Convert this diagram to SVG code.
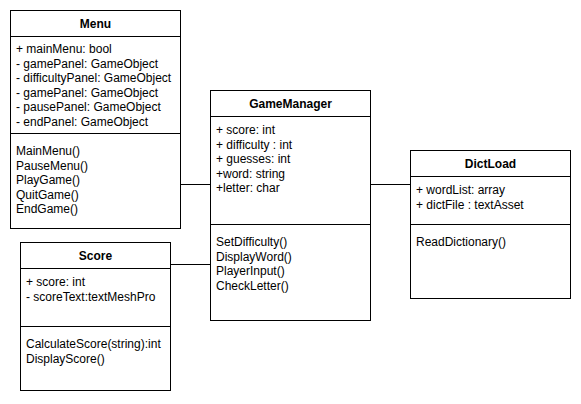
<svg xmlns="http://www.w3.org/2000/svg" width="581" height="404" viewBox="0 0 581 404">
<style>
.box{fill:#fff;stroke:#000;stroke-width:1}
.sep{stroke:#000;stroke-width:1}
.t{font-family:"Liberation Sans",Arial,sans-serif;font-size:12px;fill:#000}
.h{font-family:"Liberation Sans",Arial,sans-serif;font-size:12px;font-weight:bold;fill:#000;text-anchor:middle}
.c{stroke:#000;stroke-width:1;fill:none}
</style>
<rect width="581" height="404" fill="#fff"/>
<g id="connectors">
<line class="c" x1="180.5" y1="184.5" x2="210.5" y2="184.5"/>
<line class="c" x1="370.5" y1="184.5" x2="410.5" y2="184.5"/>
<line class="c" x1="170.5" y1="264.5" x2="210.5" y2="264.5"/>
</g>
<g id="menu">
<rect class="box" x="10.5" y="10.5" width="170" height="218"/>
<line class="sep" x1="10.5" y1="36.5" x2="180.5" y2="36.5"/>
<line class="sep" x1="10.5" y1="133.5" x2="180.5" y2="133.5"/>
<text class="h" x="95.5" y="28">Menu</text>
<text class="t" x="16" y="53">+ mainMenu: bool</text>
<text class="t" x="16" y="67.5">- gamePanel: GameObject</text>
<text class="t" x="16" y="82">- difficultyPanel: GameObject</text>
<text class="t" x="16" y="96.5">- gamePanel: GameObject</text>
<text class="t" x="16" y="111">- pausePanel: GameObject</text>
<text class="t" x="16" y="125.5">- endPanel: GameObject</text>
<text class="t" x="16" y="155">MainMenu()</text>
<text class="t" x="16" y="169.5">PauseMenu()</text>
<text class="t" x="16" y="184">PlayGame()</text>
<text class="t" x="16" y="198.5">QuitGame()</text>
<text class="t" x="16" y="213">EndGame()</text>
</g>
<g id="gamemanager">
<rect class="box" x="210.5" y="90.5" width="160" height="230"/>
<line class="sep" x1="210.5" y1="116.5" x2="370.5" y2="116.5"/>
<line class="sep" x1="210.5" y1="224.5" x2="370.5" y2="224.5"/>
<text class="h" x="290.5" y="108">GameManager</text>
<text class="t" x="216" y="134">+ score: int</text>
<text class="t" x="216" y="148.5">+ difficulty : int</text>
<text class="t" x="216" y="163">+ guesses: int</text>
<text class="t" x="216" y="177.5">+word: string</text>
<text class="t" x="216" y="192">+letter: char</text>
<text class="t" x="216" y="246">SetDifficulty()</text>
<text class="t" x="216" y="260.5">DisplayWord()</text>
<text class="t" x="216" y="275">PlayerInput()</text>
<text class="t" x="216" y="289.5">CheckLetter()</text>
</g>
<g id="dictload">
<rect class="box" x="410.5" y="150.5" width="160" height="148"/>
<line class="sep" x1="410.5" y1="176.5" x2="570.5" y2="176.5"/>
<line class="sep" x1="410.5" y1="224.5" x2="570.5" y2="224.5"/>
<text class="h" x="490.5" y="168">DictLoad</text>
<text class="t" x="416" y="194">+ wordList: array</text>
<text class="t" x="416" y="208.5">+ dictFile : textAsset</text>
<text class="t" x="416" y="246">ReadDictionary()</text>
</g>
<g id="score">
<rect class="box" x="20.5" y="242.5" width="150" height="148"/>
<line class="sep" x1="20.5" y1="268.5" x2="170.5" y2="268.5"/>
<line class="sep" x1="20.5" y1="326.5" x2="170.5" y2="326.5"/>
<text class="h" x="95.5" y="260">Score</text>
<text class="t" x="26" y="286">+ score: int</text>
<text class="t" x="26" y="300.5">- scoreText:textMeshPro</text>
<text class="t" x="26" y="348">CalculateScore(string):int</text>
<text class="t" x="26" y="362.5">DisplayScore()</text>
</g>
</svg>
